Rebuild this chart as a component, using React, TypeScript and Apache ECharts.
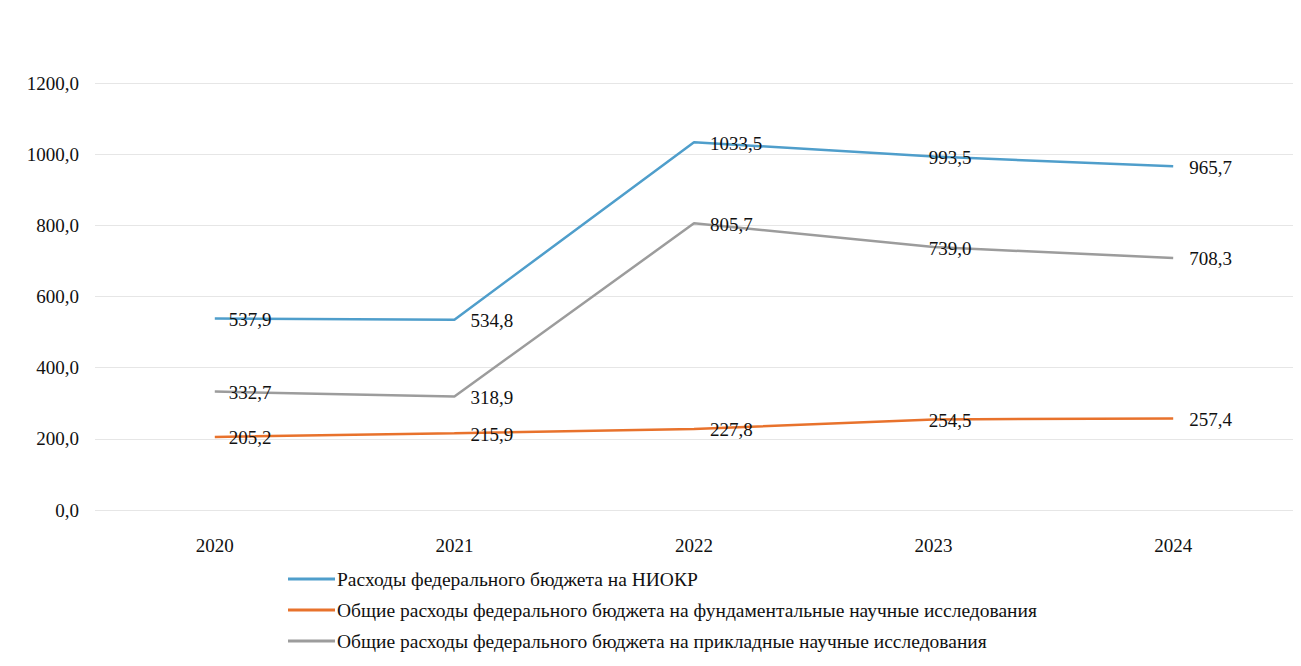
import React, { useEffect, useRef } from "react";
import * as echarts from "echarts";

const years = ["2020", "2021", "2022", "2023", "2024"];
const seriesNames = [
  "Расходы федерального бюджета на НИОКР",
  "Общие расходы федерального бюджета на фундаментальные научные исследования",
  "Общие расходы федерального бюджета на прикладные научные исследования",
];
const niokr = [537.9, 534.8, 1033.5, 993.5, 965.7];
const fundamental = [205.2, 215.9, 227.8, 254.5, 257.4];
const applied = [332.7, 318.9, 805.7, 739.0, 708.3];
const colors = ["#4f9ecb", "#e8722c", "#9c9c9c"];

const fmt = (v: number) => v.toFixed(1).replace(".", ",");

export default function App() {
  const ref = useRef<HTMLDivElement>(null);
  useEffect(() => {
    if (!ref.current) return;
    const chart = echarts.init(ref.current, undefined, { renderer: "svg" });
    const font = "'Liberation Serif', 'Times New Roman', serif";
    const mk = (name: string, vals: number[], color: string) => ({
      name,
      type: "line",
      data: vals.map((v, i) => ({
        value: v,
        label: i === 3 ? { offset: [-21, 1] } : i === 0 ? { offset: [-2, 1] } : { offset: [0, 1] },
      })),
      symbol: "circle",
      symbolSize: 0.1,
      showSymbol: true,
      lineStyle: { color, width: 2.5 },
      itemStyle: { color },
      label: {
        show: true,
        position: "right",
        distance: 16,
        color: "#111",
        fontFamily: font,
        fontSize: 19,
        formatter: (p: any) => fmt(p.value),
      },
    });
    chart.setOption({
      animation: false,
      backgroundColor: "#fff",
      grid: { left: 95, right: 8, top: 83, bottom: 156, containLabel: false },
      legend: {
        orient: "vertical",
        left: 283,
        top: 564,
        itemWidth: 47,
        itemHeight: 3,
        itemGap: 11,
        icon: "rect",
        textStyle: { fontFamily: font, fontSize: 19.5, color: "#111", padding: [0, 0, 0, -3] },
        data: seriesNames,
      },
      xAxis: {
        type: "category",
        data: years,
        boundaryGap: true,
        axisLine: { show: false },
        axisTick: { show: false },
        axisLabel: { fontFamily: font, fontSize: 19, color: "#111", margin: 26 },
      },
      yAxis: {
        type: "value",
        min: 0,
        max: 1200,
        interval: 200,
        axisLine: { show: false },
        axisTick: { show: false },
        splitLine: { lineStyle: { color: "#e6e6e6", width: 1 } },
        axisLabel: {
          fontFamily: font,
          fontSize: 19,
          color: "#111",
          margin: 16,
          formatter: (v: number) => fmt(v),
        },
      },
      series: [
        mk(seriesNames[0], niokr, colors[0]),
        mk(seriesNames[1], fundamental, colors[1]),
        mk(seriesNames[2], applied, colors[2]),
      ],
    });
    return () => chart.dispose();
  }, []);
  return <div ref={ref} style={{ width: 1301, height: 666, position: "absolute", left: 0, top: 0 }} />;
}
